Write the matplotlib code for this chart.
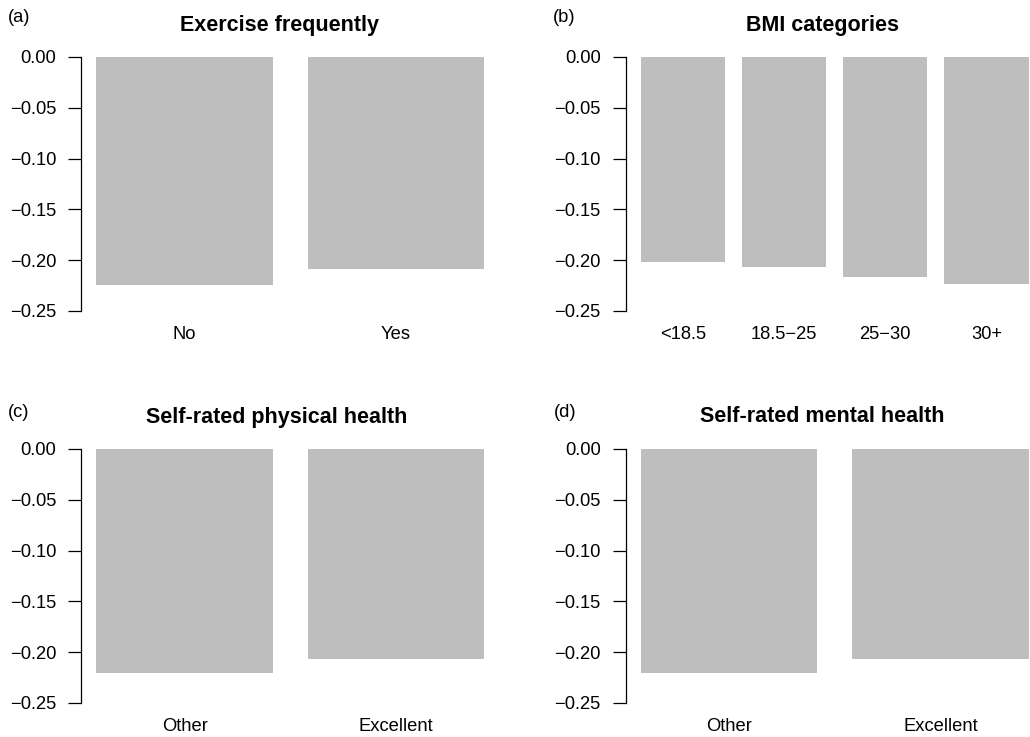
import matplotlib
matplotlib.use("Agg")
import matplotlib.pyplot as plt

plt.rcParams['font.family'] = ['Liberation Sans', 'DejaVu Sans']

# ---- data ----
titles = ["Exercise frequently", "BMI categories",
          "Self-rated physical health", "Self-rated mental health"]
panel_tags = ["(a)", "(b)", "(c)", "(d)"]
cats_a = ["No", "Yes"]
vals_a = [-0.224, -0.209]
cats_b = ["<18.5", "18.5\u221225", "25\u221230", "30+"]
vals_b = [-0.2014, -0.2064, -0.2162, -0.2231]
cats_c = ["Other", "Excellent"]
vals_c = [-0.221, -0.2064]
cats_d = ["Other", "Excellent"]
vals_d = [-0.221, -0.2064]
yticks = [0.00, -0.05, -0.10, -0.15, -0.20, -0.25]
ytick_labels = ["0.00", "\u22120.05", "\u22120.10", "\u22120.15", "\u22120.20", "\u22120.25"]

W, H = 1030, 737
fig = plt.figure(figsize=(W / 100, H / 100), dpi=100)

BAR = "#BEBEBE"
FS = 13.2


def px_axes(left, top, width, height):
    return fig.add_axes([left / W, 1 - (top + height) / H, width / W, height / H])


panels = [
    (cats_a, vals_a, 81.0, 46.8),
    (cats_b, vals_b, 625.5, 46.8),
    (cats_c, vals_c, 81.0, 438.8),
    (cats_d, vals_d, 625.5, 438.8),
]
ax_w = 418.5
ax_h = 274.3

for i, (cats, vals, left, top) in enumerate(panels):
    ax = px_axes(left, top, ax_w, ax_h)
    n = len(cats)
    space, width = 0.2, 1.0
    lefts = [space + k * (width + space) for k in range(n)]
    centers = [l + width / 2 for l in lefts]
    ax.bar(centers, vals, width=width, color=BAR, edgecolor="none")
    lo, hi = lefts[0], lefts[-1] + width
    ext = 0.04 * (hi - lo)
    ax.set_xlim(lo - ext, hi + ext)
    ax.set_ylim(-0.26, 0.01)
    for s in ["top", "right", "bottom"]:
        ax.spines[s].set_visible(False)
    ax.spines["left"].set_bounds(-0.25, 0.0)
    ax.spines["left"].set_linewidth(0.9)
    ax.set_yticks(yticks)
    ax.set_yticklabels(ytick_labels, fontsize=FS)
    ax.tick_params(axis="y", direction="out", length=9.1, width=0.9, pad=8.8)
    ax.set_xticks(centers)
    ax.set_xticklabels(cats, fontsize=FS)
    ax.tick_params(axis="x", length=0, pad=3.2)
    ax.patch.set_visible(False)

# titles and panel tags (pixel positions)
title_pos = [(280, 30.5), (822, 30.5), (277, 422.5), (822, 422.5)]
tag_pos = [(8, 21.7), (553, 21.7), (8, 416.7), (554, 416.7)]
for t, (x, y) in zip(titles, title_pos):
    fig.text(x / W, 1 - y / H, t, ha="center", va="baseline",
             fontsize=15.5, fontweight="bold")
for t, (x, y) in zip(panel_tags, tag_pos):
    fig.text(x / W, 1 - y / H, t, ha="left", va="baseline", fontsize=FS)

fig.savefig("out.png", dpi=100)
